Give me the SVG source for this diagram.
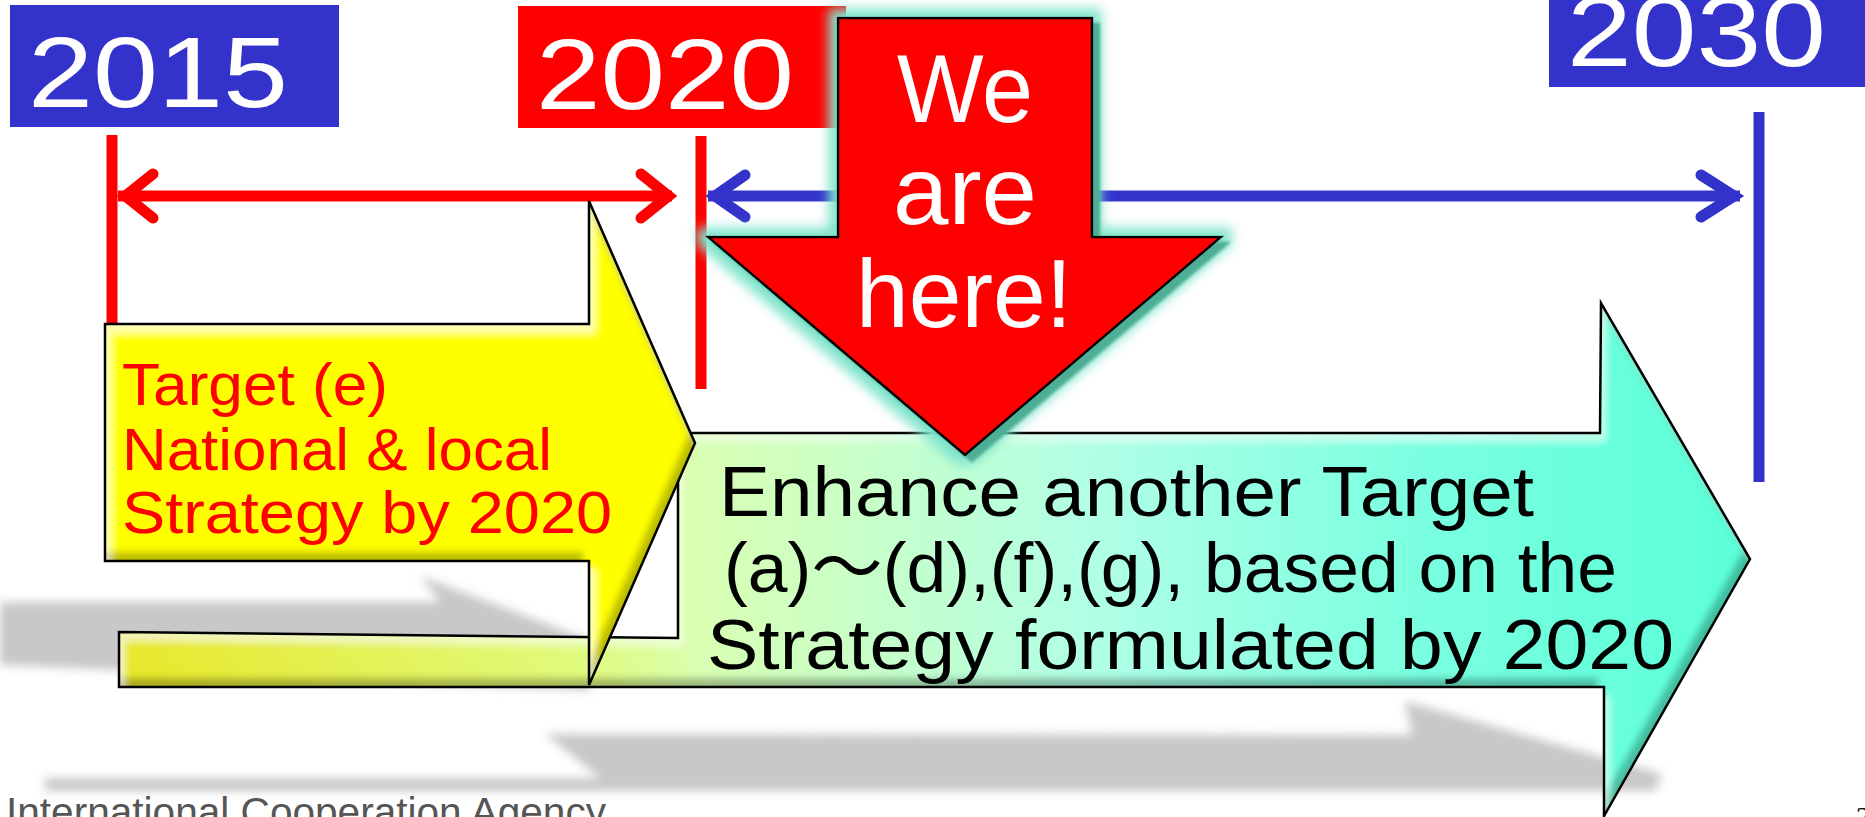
<svg xmlns="http://www.w3.org/2000/svg" width="1865" height="817" viewBox="0 0 1865 817">
<style>
.yr{fill:#fff;font-family:"Liberation Sans","Noto Sans CJK JP",sans-serif;font-size:100px}
.wh{fill:#fff;font-family:"Liberation Sans","Noto Sans CJK JP",sans-serif;font-size:97px}
.rt{fill:#ff0000;font-family:"Liberation Sans","Noto Sans CJK JP",sans-serif;font-size:60px}
.bt{fill:#000;font-family:"Liberation Sans","Noto Sans CJK JP",sans-serif;font-size:71px}
.ln{fill:none;stroke-width:11}
.red{stroke:#ff0000}
.blue{stroke:#3333cc}
.chev{fill:none;stroke-width:11;stroke-linecap:round;stroke-linejoin:miter;stroke-miterlimit:10}
.outline{fill:none;stroke:#000;stroke-width:2.5;stroke-linejoin:miter}
.shadow{fill:#c8c8c8;filter:url(#blur)}
</style>
<defs>
<filter id="blur" x="-10%" y="-50%" width="120%" height="200%">
<feGaussianBlur stdDeviation="5"/>
</filter>
<filter id="bevel" x="-5%" y="-5%" width="110%" height="110%">
<feGaussianBlur in="SourceAlpha" stdDeviation="3.5" result="blur"/>
<feOffset in="blur" dx="-6" dy="-9" result="offD"/>
<feComposite in="SourceAlpha" in2="offD" operator="out" result="edgeD"/>
<feFlood flood-color="#000" flood-opacity="0.5"/>
<feComposite in2="edgeD" operator="in" result="dark"/>
<feOffset in="blur" dx="6" dy="9" result="offL"/>
<feComposite in="SourceAlpha" in2="offL" operator="out" result="edgeL"/>
<feFlood flood-color="#fff" flood-opacity="0.45"/>
<feComposite in2="edgeL" operator="in" result="light"/>
<feMerge><feMergeNode in="SourceGraphic"/><feMergeNode in="dark"/><feMergeNode in="light"/></feMerge>
</filter>
<filter id="glow" x="-20%" y="-20%" width="140%" height="140%">
<feMorphology in="SourceAlpha" operator="dilate" radius="8" result="dil"/>
<feGaussianBlur in="dil" stdDeviation="6" result="gb"/>
<feFlood flood-color="#80e4cc"/>
<feComposite in2="gb" operator="in" result="g"/>
<feOffset in="SourceAlpha" dx="7" dy="6" result="o"/>
<feGaussianBlur in="o" stdDeviation="1.5" result="ob"/>
<feFlood flood-color="#4eae95"/>
<feComposite in2="ob" operator="in" result="sh"/>
<feMerge><feMergeNode in="g"/><feMergeNode in="sh"/><feMergeNode in="SourceGraphic"/></feMerge>
</filter>
<linearGradient id="greenGrad" gradientUnits="userSpaceOnUse" x1="119" y1="0" x2="1750" y2="0">
<stop offset="0" stop-color="#e8e82a"/>
<stop offset="0.29" stop-color="#e0fb80"/>
<stop offset="0.36" stop-color="#d8ffb4"/>
<stop offset="0.6" stop-color="#b0ffe6"/>
<stop offset="0.8" stop-color="#7affe0"/>
<stop offset="1" stop-color="#5affd8"/>
</linearGradient>
</defs>
<rect width="1865" height="817" fill="#fff"/>

<g id="shadows">
<polygon class="shadow" points="0,602 440,602 420,576 590,640 590,690 0,665"/>
<polygon class="shadow" points="45,778 600,778 545,734 1412,735 1405,701 1662,774 1655,791 45,791"/>
</g>

<g id="connectors">
<line class="ln red" x1="112" y1="135" x2="112" y2="324"/>
<line class="ln red" x1="701" y1="136" x2="701" y2="389"/>
<line class="ln red" x1="118" y1="196" x2="672" y2="196"/>
<polyline class="chev red" points="153,174 125.5,196 153,218"/>
<polyline class="chev red" points="641,174 668.5,196 641,218"/>
<line class="ln blue" x1="708" y1="196" x2="1740" y2="196"/>
<polyline class="chev blue" points="745,175 715,196 745,217"/>
<polyline class="chev blue" points="1701,175 1734,196 1701,217"/>
<line class="ln blue" x1="1759" y1="112" x2="1759" y2="482"/>
</g>

<g id="year2015">
<rect x="10" y="5" width="329" height="122" fill="#3333cc"/>
<text class="yr" x="28" y="107" textLength="260" lengthAdjust="spacingAndGlyphs">2015</text>
</g>
<g id="year2020">
<rect x="518" y="6" width="328" height="122" fill="#ff0000"/>
<text class="yr" x="536" y="109" textLength="258" lengthAdjust="spacingAndGlyphs">2020</text>
</g>
<g id="year2030">
<rect x="1549" y="0" width="316" height="87" fill="#3333cc"/>
<text class="yr" x="1567" y="66" textLength="259" lengthAdjust="spacingAndGlyphs">2030</text>
</g>

<g id="arrow-enhance">
<polygon points="119,632 678,638 678,433 1600,433 1601,303 1750,559 1604,816 1604,687 119,687" fill="url(#greenGrad)" filter="url(#bevel)"/>
<polygon class="outline" points="119,632 678,638 678,433 1600,433 1601,303 1750,559 1604,816 1604,687 119,687"/>
<text class="bt" x="719" y="516" textLength="815" lengthAdjust="spacingAndGlyphs">Enhance another Target</text>
<text class="bt" x="724" y="592" textLength="893" lengthAdjust="spacingAndGlyphs">(a)～(d),(f),(g), based on the</text>
<text class="bt" x="707" y="669" textLength="967" lengthAdjust="spacingAndGlyphs">Strategy formulated by 2020</text>
</g>

<g id="arrow-target-e">
<polygon points="105,324 589,324 589,201 695,443 589,685 589,561 105,561" fill="#ffff00" filter="url(#bevel)"/>
<polygon class="outline" points="105,324 589,324 589,201 695,443 589,685 589,561 105,561"/>
<text class="rt" x="122" y="405" textLength="266" lengthAdjust="spacingAndGlyphs">Target (e)</text>
<text class="rt" x="122" y="470" textLength="430" lengthAdjust="spacingAndGlyphs">National &amp; local</text>
<text class="rt" x="122" y="533" textLength="490" lengthAdjust="spacingAndGlyphs">Strategy by 2020</text>
</g>

<g id="arrow-here">
<polygon points="838,18 1092,18 1092,237 1221,237 965,455 708,237 838,237" fill="#ff0000" stroke="#000" stroke-width="2.5" filter="url(#glow)"/>
<text class="wh" x="897" y="122" textLength="136" lengthAdjust="spacingAndGlyphs">We</text>
<text class="wh" x="893" y="224" textLength="144" lengthAdjust="spacingAndGlyphs">are</text>
<text class="wh" x="856" y="327" textLength="216" lengthAdjust="spacingAndGlyphs">here!</text>
</g>

<g id="footer">
<text x="6" y="826" font-family="'Liberation Sans',sans-serif" font-size="40" fill="#555" textLength="600" lengthAdjust="spacingAndGlyphs">International Cooperation Agency</text>
<text x="1856" y="826" font-family="'Liberation Serif',serif" font-size="28" fill="#000">2</text>
</g>
</svg>
